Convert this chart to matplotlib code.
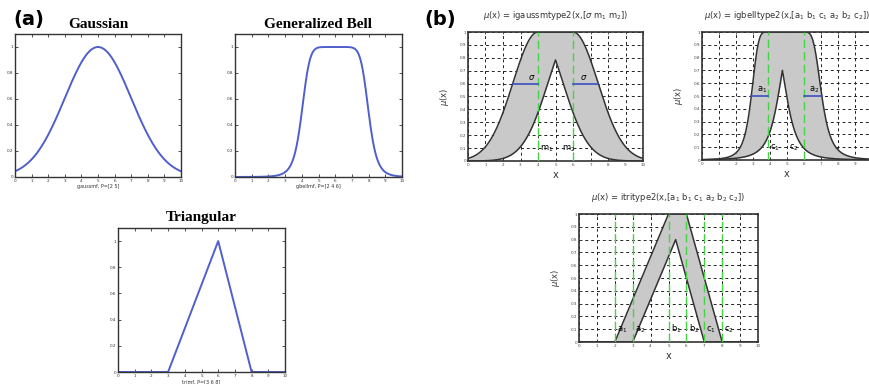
import numpy as np
import matplotlib
matplotlib.use('Agg')
import matplotlib.pyplot as plt

# parametros de las funciones de membresia
gauss_p = [2, 5]          # gaussmf, P=[sigma c]
gbell_p = [2, 4, 6]       # gbellmf, P=[a b c]
tri_p = [3, 6, 8]         # trimf, P=[a b c]

# tipo 2
gauss2_sigma = 1.43
gauss2_m = [4, 6]
bell2_upper = [1.0, 2.2, 3.9, 1.05, 1.9, 6.0]   # a1 b1 c1 a2 b2 c2
bell2_lower = [1.31, 2.0, 5.79, 1.31, 2.0, 3.67]
tri2_p = [2, 5, 7, 3, 6, 8]                      # a1 b1 c1 a2 b2 c2
tri2_lower_peak = 0.8

W, H = 869, 384
fig = plt.figure(figsize=(W / 100, H / 100), dpi=100)

blue = '#4f5fcc'
green = '#44d444'
fill_gray = '#c9c9c9'


def add_ax(l, t, r, b):
    return fig.add_axes([l / W, 1 - b / H, (r - l) / W, (b - t) / H])


def gaussmf(x, s, c):
    return np.exp(-(x - c) ** 2 / (2 * s ** 2))


def gbellmf(x, a, b, c):
    return 1 / (1 + np.abs((x - c) / a) ** (2 * b))


def trimf(x, a, b, c):
    return np.maximum(np.minimum((x - a) / (b - a), (c - x) / (c - b)), 0)


x = np.linspace(0, 10, 1001)


def style_a(ax, xlabel):
    ax.set_xlim(0, 10)
    ax.set_ylim(0, 1.1)
    ax.set_xticks(range(0, 11))
    ax.set_yticks([0, 0.2, 0.4, 0.6, 0.8, 1])
    ax.set_yticklabels(['0', '0.2', '0.4', '0.6', '0.8', '1'])
    ax.tick_params(direction='in', top=True, right=True, length=2, width=0.6,
                   labelsize=3, pad=1.5, colors='#333333')
    for s in ax.spines.values():
        s.set_linewidth(1.0)
        s.set_color('#333333')
    ax.set_xlabel(xlabel, fontsize=3.5, labelpad=1, color='#333333')


# (a) Gaussian
ax = add_ax(15, 34, 181, 177)
ax.plot(x, gaussmf(x, *gauss_p), color=blue, lw=1.4)
style_a(ax, 'gaussmf, P=[2 5]')
ax.set_title('Gaussian', fontsize=11, fontweight='bold', family='Liberation Serif', pad=4)

# (a) Generalized Bell
ax = add_ax(235, 34, 402, 177)
ax.plot(x, gbellmf(x, *gbell_p), color=blue, lw=1.4)
style_a(ax, 'gbellmf, P=[2 4 6]')
ax.set_title('Generalized Bell', fontsize=11, fontweight='bold', family='Liberation Serif', pad=4)

# (a) Triangular
ax = add_ax(118, 228, 285, 372)
ax.plot(x, trimf(x, *tri_p), color=blue, lw=1.4)
style_a(ax, 'trimf, P=[3 6 8]')
ax.set_title('Triangular', fontsize=11, fontweight='bold', family='Liberation Serif', pad=5)

fig.text(13 / W, 1 - 19 / H, '(a)', fontsize=14, fontweight='bold', va='center', ha='left')
fig.text(424 / W, 1 - 19 / H, '(b)', fontsize=14, fontweight='bold', va='center', ha='left')


def style_b(ax, title):
    ax.set_xlim(0, 10)
    ax.set_ylim(0, 1)
    ax.set_xticks(range(0, 11))
    ax.set_yticks(np.round(np.arange(0, 1.01, 0.1), 1))
    ax.set_yticklabels(['0', '0.1', '0.2', '0.3', '0.4', '0.5', '0.6', '0.7', '0.8', '0.9', '1'])
    ax.tick_params(direction='in', top=True, right=True, length=1.5, width=0.6,
                   labelsize=3, pad=1.5, colors='#444444')
    ax.grid(True, color='#222222', linestyle=(0, (3, 3)), linewidth=0.7)
    ax.set_axisbelow(True)
    for s in ax.spines.values():
        s.set_linewidth(1.2)
        s.set_color('#333333')
    ax.set_title(title, fontsize=6, pad=10, color='#333333')
    ax.set_xlabel('x', fontsize=7, labelpad=2, color='#333333')
    ax.set_ylabel(r'$\mu$(x)', fontsize=6, labelpad=6, color='#333333')


def band(ax, upper, lower):
    ax.fill_between(x, lower, upper, color=fill_gray, zorder=2, lw=0)
    ax.plot(x, upper, color='#333333', lw=1.1, zorder=3)
    ax.plot(x, lower, color='#333333', lw=1.1, zorder=3)


# (b) igaussmtype2
ax = add_ax(468, 32, 643, 161)
m1, m2 = gauss2_m
g1 = gaussmf(x, gauss2_sigma, m1)
g2 = gaussmf(x, gauss2_sigma, m2)
upper = np.where(x < m1, g1, np.where(x > m2, g2, 1.0))
lower = np.minimum(g1, g2)
band(ax, upper, lower)
for m in gauss2_m:
    ax.axvline(m, color=green, lw=1.0, linestyle=(0, (6, 3)), zorder=4)
yy = 0.6
d = gauss2_sigma * np.sqrt(-2 * np.log(yy))
ax.plot([m1 - d, m1], [yy, yy], color='#3a50c0', lw=1.2, zorder=5)
ax.plot([m2, m2 + d], [yy, yy], color='#3a50c0', lw=1.2, zorder=5)
ax.text(m1 - 0.35, yy + 0.01, r'$\sigma$', fontsize=6, ha='center', va='bottom', zorder=6)
ax.text(m2 + 0.6, yy + 0.01, r'$\sigma$', fontsize=6, ha='center', va='bottom', zorder=6)
ax.text(m1 + 0.1, 0.08, r'm$_1$', fontsize=6, zorder=6)
ax.text(m1 + 1.4, 0.08, r'm$_2$', fontsize=6, zorder=6)
style_b(ax, r'$\mu$(x) = igaussmtype2(x,[$\sigma$ m$_1$ m$_2$])')

# (b) igbelltype2
ax = add_ax(702, 32, 872, 160)
a1, b1, c1, a2, b2, c2 = bell2_upper
bl = gbellmf(x, a1, b1, c1)
br = gbellmf(x, a2, b2, c2)
upper = np.where(x < c1, bl, np.where(x > c2, br, 1.0))
la1, lb1, lc1, la2, lb2, lc2 = bell2_lower
lower = np.minimum(gbellmf(x, la1, lb1, lc1), gbellmf(x, la2, lb2, lc2))
band(ax, upper, lower)
for c in [c1, c2]:
    ax.axvline(c, color=green, lw=1.0, linestyle=(0, (6, 3)), zorder=4)
ax.plot([c1 - a1, c1], [0.5, 0.5], color='#3a50c0', lw=1.2, zorder=5)
ax.plot([c2, c2 + a2], [0.5, 0.5], color='#3a50c0', lw=1.2, zorder=5)
ax.text(c1 - 0.35, 0.51, r'a$_1$', fontsize=6, ha='center', va='bottom', zorder=6)
ax.text(c2 + 0.6, 0.51, r'a$_2$', fontsize=6, ha='center', va='bottom', zorder=6)
ax.text(c1 + 0.1, 0.08, r'c$_1$', fontsize=6, zorder=6)
ax.text(c1 + 1.2, 0.08, r'c$_2$', fontsize=6, zorder=6)
style_b(ax, r'$\mu$(x) = igbelltype2(x,[a$_1$ b$_1$ c$_1$ a$_2$ b$_2$ c$_2$])')

# (b) itritype2
ax = add_ax(579, 214, 758, 342)
ta1, tb1, tc1, ta2, tb2, tc2 = tri2_p
upper = np.clip(np.minimum((x - ta1) / (tb1 - ta1), (tc2 - x) / (tc2 - tb2)), 0, 1)
lower = np.clip(np.minimum((x - ta2) / (tb2 - ta2), (tc1 - x) / (tc1 - tb1)), 0, tri2_lower_peak)
band(ax, upper, lower)
names = [r'a$_1$', r'a$_2$', r'b$_1$', r'b$_2$', r'c$_1$', r'c$_2$']
for v, nm in zip([ta1, ta2, tb1, tb2, tc1, tc2], names):
    ax.axvline(v, color=green, lw=1.0, linestyle=(0, (6, 3)), zorder=4)
    ax.text(v + 0.12, 0.08, nm, fontsize=6, zorder=6)
style_b(ax, r'$\mu$(x) = itritype2(x,[a$_1$ b$_1$ c$_1$ a$_2$ b$_2$ c$_2$])')

fig.savefig('out.png', dpi=100)
